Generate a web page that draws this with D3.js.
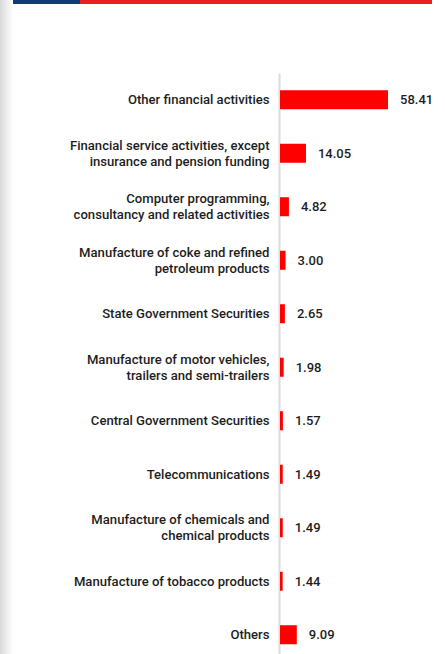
<!DOCTYPE html>
<html>
<head>
<meta charset="utf-8">
<script src="https://cdn.jsdelivr.net/npm/d3@7"></script>
<style>
  html, body { margin: 0; padding: 0; background: #fff; }
  svg { display: block; }
  text { font-family: Roboto, "Noto Sans", sans-serif; }
</style>
</head>
<body>
<svg id="chart" width="445" height="654"></svg>
<script>
const categories = [
  "Other financial activities",
  "Financial service activities, except insurance and pension funding",
  "Computer programming, consultancy and related activities",
  "Manufacture of coke and refined petroleum products",
  "State Government Securities",
  "Manufacture of motor vehicles, trailers and semi-trailers",
  "Central Government Securities",
  "Telecommunications",
  "Manufacture of chemicals and chemical products",
  "Manufacture of tobacco products",
  "Others"
];
const values = [58.41, 14.05, 4.82, 3.00, 2.65, 1.98, 1.57, 1.49, 1.49, 1.44, 9.09];

const W = 445, H = 654;
const svg = d3.select("#chart");

// left shadow strip
const defs = svg.append("defs");
const g1 = defs.append("linearGradient").attr("id", "shadow").attr("x1", "0").attr("x2", "1").attr("y1", "0").attr("y2", "0");
g1.append("stop").attr("offset", "0").attr("stop-color", "#d9d9d9");
g1.append("stop").attr("offset", "1").attr("stop-color", "#ffffff");
svg.append("rect").attr("x", 0).attr("y", 0).attr("width", 13).attr("height", H).attr("fill", "url(#shadow)");

// top header strip
svg.append("rect").attr("x", 13).attr("y", 0).attr("width", 67).attr("height", 4).attr("fill", "#0d3c78");
svg.append("rect").attr("x", 80).attr("y", 0).attr("width", 352).attr("height", 4).attr("fill", "#ee1c25");

const x0 = 280;
const x = d3.scaleLinear().domain([0, 58.41]).range([x0, 388]);
const y = d3.scaleBand().domain(categories).range([73, 661.5]).paddingInner(0).paddingOuter(0);
const barH = 19;

// axis line
const axis = svg.append("g").attr("transform", `translate(${x0 - 1},0)`)
  .call(d3.axisLeft(y).tickSize(0).tickFormat(""));
axis.select(".domain").attr("stroke", "#dcdcdc").attr("stroke-width", 2);

// bars
svg.append("g").selectAll("rect").data(values).join("rect")
  .attr("x", x0)
  .attr("y", (d, i) => y(categories[i]) + y.bandwidth() / 2 - barH / 2)
  .attr("width", d => x(d) - x0)
  .attr("height", barH)
  .attr("fill", "#ff0000");

// values
svg.append("g").selectAll("text").data(values).join("text")
  .attr("x", d => x(d) + 12)
  .attr("y", (d, i) => y(categories[i]) + y.bandwidth() / 2)
  .attr("dy", "0.35em")
  .attr("font-size", 13)
  .attr("font-weight", 500)
  .attr("fill", "#1e1e1e")
  .text(d => d.toFixed(2));

// category labels with wrapping
const maxW = 210;
const lab = svg.append("g");
categories.forEach((c, i) => {
  const cy = y(c) + y.bandwidth() / 2;
  const t = lab.append("text")
    .attr("text-anchor", "end")
    .attr("font-size", 13.1)
    .attr("font-weight", 500)
    .attr("fill", "#1e1e1e");
  const words = c.split(" ");
  const lines = [];
  let line = [];
  const probe = t.append("tspan");
  words.forEach(w => {
    line.push(w);
    probe.text(line.join(" "));
    if (probe.node().getComputedTextLength() > maxW && line.length > 1) {
      line.pop();
      lines.push(line.join(" "));
      line = [w];
    }
  });
  lines.push(line.join(" "));
  probe.remove();
  const lh = 16;
  const start = cy - (lines.length - 1) * lh / 2;
  lines.forEach((l, k) => {
    t.append("tspan").attr("x", 269.5).attr("y", start + k * lh).attr("dy", "0.35em").text(l);
  });
});
</script>
</body>
</html>
